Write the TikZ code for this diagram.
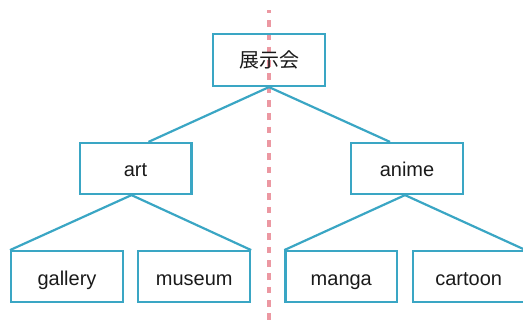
\documentclass[tikz,border=0pt]{standalone}
\usepackage{fontspec}
\setmainfont{Liberation Sans}
\newfontfamily\jpfont{Noto Sans CJK JP}
\definecolor{boxc}{RGB}{58,166,196}
\definecolor{dashc}{RGB}{236,152,162}
\definecolor{txt}{RGB}{26,26,26}
\begin{document}
\begin{tikzpicture}[x=1pt,y=-1pt,
  box/.style={draw=boxc,line width=2.2pt,minimum width=111.8pt,minimum height=51pt,inner sep=0pt,text height=16.6pt,text depth=0pt,font=\fontsize{20}{24}\selectfont,text=txt},
  conn/.style={draw=boxc,line width=2.2pt}]
\useasboundingbox (0,0) rectangle (523,325);
\coordinate (dtop) at (268.8,10);
\coordinate (dbot) at (268.8,330);
\draw[dashc,line width=3.4pt,dash pattern=on 6.67pt off 6.67pt,dash phase=3.33pt] (dtop) -- (dbot);
\node[box,minimum height=52pt,text height=15.2pt] (top) at (269,60) {\jpfont 展示会};
\node[box] (art) at (135.5,168.5) {art};
\node[box] (anime) at (407,168.5) {anime};
\node[box] (gallery) at (67,276.7) {gallery};
\node[box] (museum) at (194.2,276.7) {museum};
\node[box] (manga) at (341.3,276.7) {manga};
\node[box] (cartoon) at (468.7,276.7) {cartoon};
\draw[conn] ([xshift=13pt]art.north) -- (top.south) -- ([xshift=-17pt]anime.north);
\draw[conn] (gallery.north west) -- ([xshift=-4pt]art.south) -- (museum.north east);
\draw[conn] (manga.north west) -- ([xshift=-2pt]anime.south) -- (cartoon.north east);
\end{tikzpicture}
\end{document}
